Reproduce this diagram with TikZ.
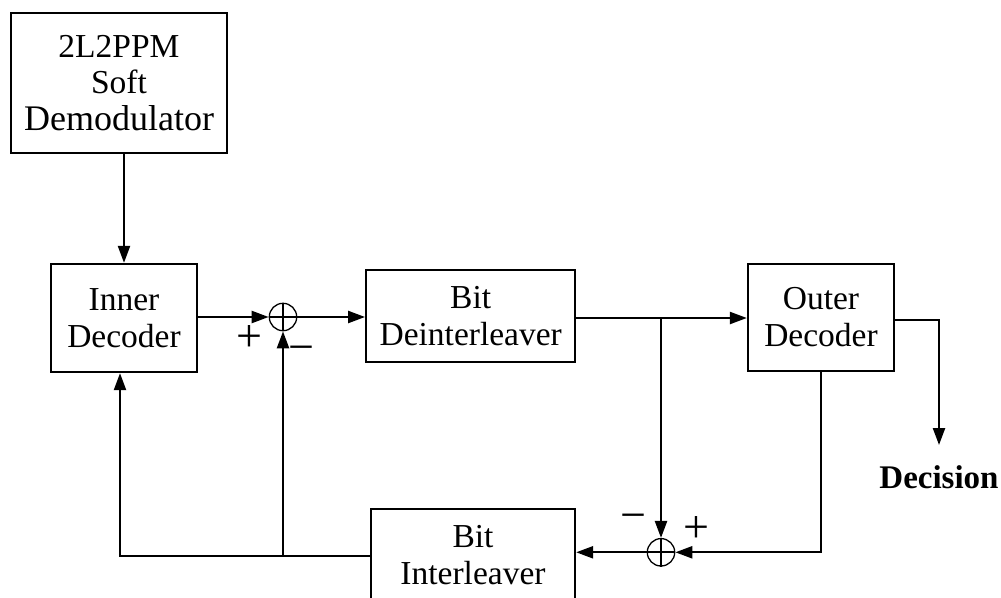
\documentclass[tikz,border=0pt]{standalone}
\usepackage{fontspec}
\setmainfont{Liberation Serif}
\usetikzlibrary{arrows.meta}
\begin{document}
\begin{tikzpicture}[x=1pt,y=-1pt,
  box/.style={draw,line width=2.3pt,inner sep=0pt,align=center,font=\fontsize{33.5}{36.5}\selectfont},
  sumnode/.style={draw,circle,line width=1.3pt,minimum size=27.4pt,inner sep=0pt},
  conn/.style={line width=2.3pt},
  arr/.style={conn,-{Triangle[length=17pt,width=12pt]}},
  sign/.style={font=\fontsize{46}{46}\selectfont,anchor=base,inner sep=0pt}]
\useasboundingbox (0,0) rectangle (1001,597);
% blocks
\node[box,minimum width=216pt,minimum height=140pt] (demod) at (119,83) {2L2PPM\\Soft\\\fontsize{36}{36.5}\selectfont Demodulator};
\node[box,minimum width=146pt,minimum height=108pt] (inner) at (124,318) {Inner\\Decoder};
\node[box,minimum width=209pt,minimum height=92pt] (deint) at (470.7,316) {Bit\\Deinterleaver};
\node[box,minimum width=146pt,minimum height=107pt] (outer) at (821,317.3) {Outer\\Decoder};
\node[box,minimum width=204pt,minimum height=92pt] (inter) at (473,555) {Bit\\Interleaver};
% adders
\node[sumnode] (s1) at (283,317) {};
\draw[conn] (s1.north) -- (s1.south) (s1.west) -- (s1.east);
\node[sumnode] (s2) at (661,552.3) {};
\draw[conn] (s2.north) -- (s2.south) (s2.west) -- (s2.east);
% output label
\node[font=\bfseries\fontsize{33}{36}\selectfont,anchor=base,inner sep=0pt] (dec) at (939,488) {Decision};
% helper coordinates
\coordinate (j) at (661,318);
\coordinate (dturn) at (939,320);
\coordinate (dtip) at (939,445);
\coordinate (fb) at (120,556);
% connectors
\draw[arr] (inner.north |- demod.south) -- (inner.north);
\draw[arr] (s1.west -| inner.east) -- (s1.west);
\draw[arr] (s1.east) -- (s1.east -| deint.west);
\draw[arr] (j -| deint.east) -- (j -| outer.west);
\draw[arr] (j) -- (s2.north);
\draw[arr] (dturn -| outer.east) -- (dturn) -- (dtip);
\draw[arr] (outer.south) -- (outer.south |- s2.east) -- (s2.east);
\draw[arr] (s2.west) -- (s2.west -| inter.east);
\draw[arr] (fb -| inter.west) -- (fb) -- (fb |- inner.south);
\draw[arr] (s1.south |- fb) -- (s1.south);
% signs
\node[sign] (p1) at (249.5,351) {+};
\node[sign] (m1) at (301,362) {−};
\node[sign] (m2) at (633.5,530.5) {−};
\node[sign] (p2) at (696.5,542.5) {+};
\end{tikzpicture}
\end{document}
